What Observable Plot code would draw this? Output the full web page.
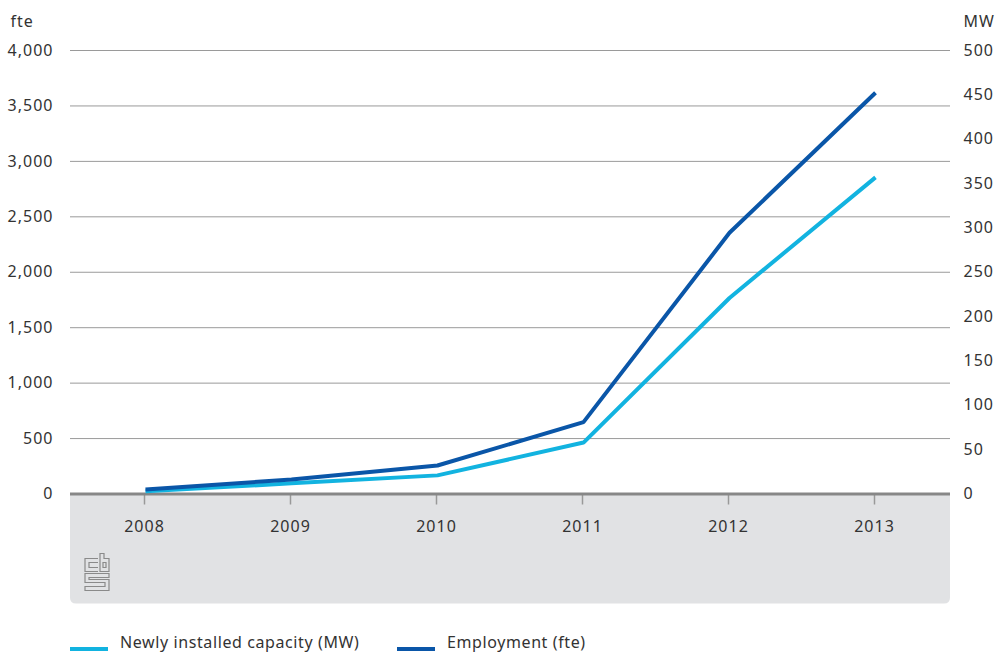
<!DOCTYPE html>
<html><head><meta charset="utf-8">
<script src="https://cdn.jsdelivr.net/npm/d3@7"></script>
<script src="https://cdn.jsdelivr.net/npm/@observablehq/plot@0.6"></script>
<style>
body{margin:0;background:#fff;font-family:"Noto Sans",sans-serif;color:#333;}
#wrap{position:relative;width:1000px;height:653px;overflow:hidden;}
.item{position:absolute;top:631px;height:22px;font-size:16px;line-height:22px;color:#333;white-space:nowrap;letter-spacing:0.6px;}
.sw{position:absolute;top:16px;width:38px;height:4px;}
.lbl{position:absolute;left:50px;top:0;}
svg text{letter-spacing:1px;}
</style></head><body>
<div id="wrap"><div id="chart"></div><div id="legend"></div></div>
<script>
const years = ["2008", "2009", "2010", "2011", "2012", "2013"];
const capacityMW = [3, 12, 21, 58, 221, 357];
const employmentFte = [40, 131, 257, 648, 2356, 3619];
const leftTicks = [0, 500, 1000, 1500, 2000, 2500, 3000, 3500, 4000];
const rightTicks = [0, 50, 100, 150, 200, 250, 300, 350, 400, 450, 500];
const seriesNames = ["Newly installed capacity (MW)", "Employment (fte)"];
const colors = ["#12b3e0", "#0a56a8"];
const ratio = 4000 / 500; // fte per MW on the shared vertical scale

const data = [];
years.forEach((y, i) => {
  data.push({year: y, series: seriesNames[0], v: capacityMW[i] * ratio});
});
years.forEach((y, i) => {
  data.push({year: y, series: seriesNames[1], v: employmentFte[i]});
});

function background(index, scales, values, dims) {
  const x0 = dims.marginLeft, x1 = dims.width - dims.marginRight;
  const y0 = scales.y(0), y1 = y0 + 110, r = 6;
  const g = d3.create("svg:g");
  g.append("path")
    .attr("d", `M${x0},${y0}H${x1}V${y1 - r}Q${x1},${y1} ${x1 - r},${y1}H${x0 + r}Q${x0},${y1} ${x0},${y1 - r}Z`)
    .attr("fill", "#e1e2e4");
  // cbs logo (approximate)
  const lx = x0 + 15, ly = y0 + 60;
  g.append("path")
    .attr("d", `M${lx+13},${ly+5}H${lx}V${ly+18}H${lx+13}M${lx+13},${ly+9}H${lx+4}V${ly+14}H${lx+13}` +
      `M${lx+15},${ly}V${ly+18}H${lx+24}V${ly+5}H${lx+19}V${ly}Z M${lx+18},${ly+9}H${lx+21}V${ly+14}H${lx+18}Z` +
      `M${lx+24},${ly+20}H${lx}V${ly+29}H${lx+20}V${ly+33}H${lx}V${ly+37}H${lx+24}V${ly+26}H${lx+4}V${ly+24}H${lx+24}Z`)
    .attr("fill", "none").attr("stroke", "#8a8a8a").attr("stroke-width", 1.2);
  return g.node();
}

const plot = Plot.plot({
  width: 1000,
  height: 631,
  marginTop: 50,
  marginBottom: 137.5,
  marginLeft: 70,
  marginRight: 50,
  x: {type: "point", domain: years, padding: 0.5, axis: null},
  y: {domain: [0, 4000], axis: null},
  color: {domain: seriesNames, range: colors},
  style: {fontFamily: "Noto Sans", fontSize: "16px", color: "#333", background: "white", overflow: "visible"},
  marks: [
    background,
    Plot.gridY(leftTicks.slice(1), {stroke: "#9a9a9a", strokeOpacity: 1, strokeWidth: 1}),
    Plot.axisY(leftTicks, {anchor: "left", tickSize: 0, tickPadding: 17, tickFormat: d3.format(","), label: null, fontSize: 16}),
    Plot.axisY(rightTicks.map(d => d * ratio), {anchor: "right", tickSize: 0, tickPadding: 13, tickFormat: d => d / ratio, label: null, fontSize: 16}),
    Plot.axisX(years, {anchor: "bottom", tickSize: 11, tickPadding: 16, stroke: "#999", strokeWidth: 1.5, label: null, fontSize: 16, dx: -1}),
    Plot.text(["fte"], {frameAnchor: "top-left", dx: -60, dy: -35, textAnchor: "start", fontSize: 16, fill: "#333"}),
    Plot.text(["MW"], {frameAnchor: "top-right", dx: 13, dy: -35, textAnchor: "start", fontSize: 16, fill: "#333"}),
    Plot.ruleY([0], {stroke: "#878787", strokeWidth: 3}),
    Plot.line(data, {x: "year", y: "v", z: "series", stroke: "series", strokeWidth: 4, strokeLinecap: "butt", strokeLinejoin: "miter"})
  ]
});
document.getElementById("chart").appendChild(plot);

const legend = document.getElementById("legend");
const lefts = [70, 397];
seriesNames.forEach((name, i) => {
  const it = document.createElement("div");
  it.className = "item";
  it.style.left = lefts[i] + "px";
  it.innerHTML = `<span class="sw" style="background:${colors[i]}"></span><span class="lbl">${name}</span>`;
  legend.appendChild(it);
});
</script>
</body></html>
